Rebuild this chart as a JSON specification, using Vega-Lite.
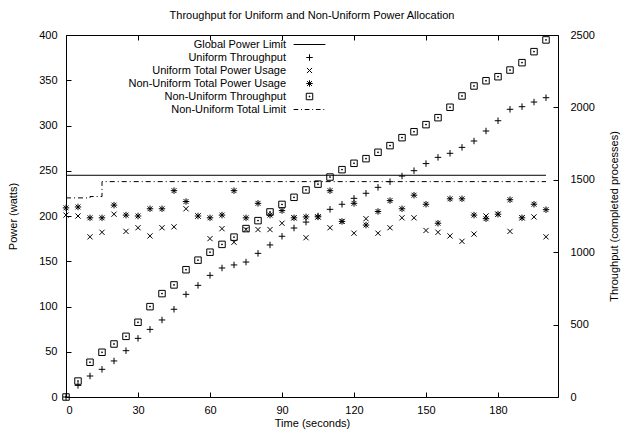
{
  "$schema": "https://vega.github.io/schema/vega-lite/v6.json",
  "autosize": "none",
  "width": 492,
  "height": 362,
  "padding": {"left": 66, "top": 35, "right": 63, "bottom": 36},
  "title": {"text": "Throughput for Uniform and Non-Uniform Power Allocation", "anchor": "middle", "offset": 8, "fontSize": 11, "fontWeight": "normal", "font": "Liberation Sans", "color": "black"},
  "config": {
    "view": {"stroke": "black", "strokeWidth": 1},
    "font": "Liberation Sans",
    "axis": {"labelFont": "Liberation Sans", "titleFont": "Liberation Sans", "labelFontSize": 11, "titleFontSize": 11, "titleFontWeight": "normal", "labelColor": "black", "titleColor": "black", "domainColor": "black", "tickColor": "black", "grid": false, "tickSize": -5, "domain": false},
    "legend": {"labelFont": "Liberation Sans", "labelFontSize": 11, "labelColor": "black"}
  },
  "data": {"values": [
    {"series": "Global Power Limit", "t": 0, "v": 245},
    {"series": "Global Power Limit", "t": 200, "v": 245},
    {"series": "Non-Uniform Total Limit", "t": 0, "v": 220},
    {"series": "Non-Uniform Total Limit", "t": 5, "v": 220},
    {"series": "Non-Uniform Total Limit", "t": 10, "v": 221.5},
    {"series": "Non-Uniform Total Limit", "t": 15, "v": 238},
    {"series": "Non-Uniform Total Limit", "t": 200, "v": 238},
    {"series": "Non-Uniform Throughput", "t": 0, "v": 0},
    {"series": "Non-Uniform Throughput", "t": 5, "v": 110},
    {"series": "Non-Uniform Throughput", "t": 10, "v": 240},
    {"series": "Non-Uniform Throughput", "t": 15, "v": 309},
    {"series": "Non-Uniform Throughput", "t": 20, "v": 366},
    {"series": "Non-Uniform Throughput", "t": 25, "v": 419},
    {"series": "Non-Uniform Throughput", "t": 30, "v": 516},
    {"series": "Non-Uniform Throughput", "t": 35, "v": 624},
    {"series": "Non-Uniform Throughput", "t": 40, "v": 714},
    {"series": "Non-Uniform Throughput", "t": 45, "v": 774},
    {"series": "Non-Uniform Throughput", "t": 50, "v": 879},
    {"series": "Non-Uniform Throughput", "t": 55, "v": 945},
    {"series": "Non-Uniform Throughput", "t": 60, "v": 1000},
    {"series": "Non-Uniform Throughput", "t": 65, "v": 1054},
    {"series": "Non-Uniform Throughput", "t": 70, "v": 1104},
    {"series": "Non-Uniform Throughput", "t": 75, "v": 1163},
    {"series": "Non-Uniform Throughput", "t": 80, "v": 1218},
    {"series": "Non-Uniform Throughput", "t": 85, "v": 1278},
    {"series": "Non-Uniform Throughput", "t": 90, "v": 1330},
    {"series": "Non-Uniform Throughput", "t": 95, "v": 1379},
    {"series": "Non-Uniform Throughput", "t": 100, "v": 1430},
    {"series": "Non-Uniform Throughput", "t": 105, "v": 1470},
    {"series": "Non-Uniform Throughput", "t": 110, "v": 1519},
    {"series": "Non-Uniform Throughput", "t": 115, "v": 1570},
    {"series": "Non-Uniform Throughput", "t": 120, "v": 1614},
    {"series": "Non-Uniform Throughput", "t": 125, "v": 1646},
    {"series": "Non-Uniform Throughput", "t": 130, "v": 1690},
    {"series": "Non-Uniform Throughput", "t": 135, "v": 1736},
    {"series": "Non-Uniform Throughput", "t": 140, "v": 1791},
    {"series": "Non-Uniform Throughput", "t": 145, "v": 1832},
    {"series": "Non-Uniform Throughput", "t": 150, "v": 1881},
    {"series": "Non-Uniform Throughput", "t": 155, "v": 1929},
    {"series": "Non-Uniform Throughput", "t": 160, "v": 2001},
    {"series": "Non-Uniform Throughput", "t": 165, "v": 2079},
    {"series": "Non-Uniform Throughput", "t": 170, "v": 2148},
    {"series": "Non-Uniform Throughput", "t": 175, "v": 2184},
    {"series": "Non-Uniform Throughput", "t": 180, "v": 2212},
    {"series": "Non-Uniform Throughput", "t": 185, "v": 2258},
    {"series": "Non-Uniform Throughput", "t": 190, "v": 2309},
    {"series": "Non-Uniform Throughput", "t": 195, "v": 2385},
    {"series": "Non-Uniform Throughput", "t": 200, "v": 2466},
    {"series": "Uniform Throughput", "t": 0, "v": 0},
    {"series": "Uniform Throughput", "t": 5, "v": 80},
    {"series": "Uniform Throughput", "t": 10, "v": 145},
    {"series": "Uniform Throughput", "t": 15, "v": 191},
    {"series": "Uniform Throughput", "t": 20, "v": 249},
    {"series": "Uniform Throughput", "t": 25, "v": 320},
    {"series": "Uniform Throughput", "t": 30, "v": 405},
    {"series": "Uniform Throughput", "t": 35, "v": 467},
    {"series": "Uniform Throughput", "t": 40, "v": 532},
    {"series": "Uniform Throughput", "t": 45, "v": 606},
    {"series": "Uniform Throughput", "t": 50, "v": 709},
    {"series": "Uniform Throughput", "t": 55, "v": 771},
    {"series": "Uniform Throughput", "t": 60, "v": 840},
    {"series": "Uniform Throughput", "t": 65, "v": 891},
    {"series": "Uniform Throughput", "t": 70, "v": 912},
    {"series": "Uniform Throughput", "t": 75, "v": 932},
    {"series": "Uniform Throughput", "t": 80, "v": 992},
    {"series": "Uniform Throughput", "t": 85, "v": 1050},
    {"series": "Uniform Throughput", "t": 90, "v": 1110},
    {"series": "Uniform Throughput", "t": 95, "v": 1167},
    {"series": "Uniform Throughput", "t": 100, "v": 1208},
    {"series": "Uniform Throughput", "t": 105, "v": 1250},
    {"series": "Uniform Throughput", "t": 110, "v": 1296},
    {"series": "Uniform Throughput", "t": 115, "v": 1331},
    {"series": "Uniform Throughput", "t": 120, "v": 1372},
    {"series": "Uniform Throughput", "t": 125, "v": 1407},
    {"series": "Uniform Throughput", "t": 130, "v": 1448},
    {"series": "Uniform Throughput", "t": 135, "v": 1487},
    {"series": "Uniform Throughput", "t": 140, "v": 1526},
    {"series": "Uniform Throughput", "t": 145, "v": 1563},
    {"series": "Uniform Throughput", "t": 150, "v": 1612},
    {"series": "Uniform Throughput", "t": 155, "v": 1655},
    {"series": "Uniform Throughput", "t": 160, "v": 1683},
    {"series": "Uniform Throughput", "t": 165, "v": 1724},
    {"series": "Uniform Throughput", "t": 170, "v": 1768},
    {"series": "Uniform Throughput", "t": 175, "v": 1837},
    {"series": "Uniform Throughput", "t": 180, "v": 1908},
    {"series": "Uniform Throughput", "t": 185, "v": 1987},
    {"series": "Uniform Throughput", "t": 190, "v": 2005},
    {"series": "Uniform Throughput", "t": 195, "v": 2037},
    {"series": "Uniform Throughput", "t": 200, "v": 2067},
    {"series": "Non-Uniform Total Power Usage", "t": 0, "v": 209},
    {"series": "Non-Uniform Total Power Usage", "t": 5, "v": 210},
    {"series": "Non-Uniform Total Power Usage", "t": 10, "v": 198},
    {"series": "Non-Uniform Total Power Usage", "t": 15, "v": 198},
    {"series": "Non-Uniform Total Power Usage", "t": 20, "v": 212},
    {"series": "Non-Uniform Total Power Usage", "t": 25, "v": 201},
    {"series": "Non-Uniform Total Power Usage", "t": 30, "v": 200},
    {"series": "Non-Uniform Total Power Usage", "t": 35, "v": 208},
    {"series": "Non-Uniform Total Power Usage", "t": 40, "v": 208},
    {"series": "Non-Uniform Total Power Usage", "t": 45, "v": 228},
    {"series": "Non-Uniform Total Power Usage", "t": 50, "v": 216},
    {"series": "Non-Uniform Total Power Usage", "t": 55, "v": 200},
    {"series": "Non-Uniform Total Power Usage", "t": 60, "v": 198},
    {"series": "Non-Uniform Total Power Usage", "t": 65, "v": 201},
    {"series": "Non-Uniform Total Power Usage", "t": 70, "v": 228},
    {"series": "Non-Uniform Total Power Usage", "t": 75, "v": 198},
    {"series": "Non-Uniform Total Power Usage", "t": 80, "v": 214},
    {"series": "Non-Uniform Total Power Usage", "t": 85, "v": 201},
    {"series": "Non-Uniform Total Power Usage", "t": 90, "v": 206},
    {"series": "Non-Uniform Total Power Usage", "t": 95, "v": 198},
    {"series": "Non-Uniform Total Power Usage", "t": 100, "v": 199},
    {"series": "Non-Uniform Total Power Usage", "t": 105, "v": 199},
    {"series": "Non-Uniform Total Power Usage", "t": 110, "v": 228},
    {"series": "Non-Uniform Total Power Usage", "t": 115, "v": 194},
    {"series": "Non-Uniform Total Power Usage", "t": 120, "v": 214},
    {"series": "Non-Uniform Total Power Usage", "t": 125, "v": 190},
    {"series": "Non-Uniform Total Power Usage", "t": 130, "v": 205},
    {"series": "Non-Uniform Total Power Usage", "t": 135, "v": 217},
    {"series": "Non-Uniform Total Power Usage", "t": 140, "v": 208},
    {"series": "Non-Uniform Total Power Usage", "t": 145, "v": 223},
    {"series": "Non-Uniform Total Power Usage", "t": 150, "v": 213},
    {"series": "Non-Uniform Total Power Usage", "t": 155, "v": 192},
    {"series": "Non-Uniform Total Power Usage", "t": 160, "v": 219},
    {"series": "Non-Uniform Total Power Usage", "t": 165, "v": 219},
    {"series": "Non-Uniform Total Power Usage", "t": 170, "v": 201},
    {"series": "Non-Uniform Total Power Usage", "t": 175, "v": 197},
    {"series": "Non-Uniform Total Power Usage", "t": 180, "v": 202},
    {"series": "Non-Uniform Total Power Usage", "t": 185, "v": 218},
    {"series": "Non-Uniform Total Power Usage", "t": 190, "v": 198},
    {"series": "Non-Uniform Total Power Usage", "t": 195, "v": 213},
    {"series": "Non-Uniform Total Power Usage", "t": 200, "v": 207},
    {"series": "Uniform Total Power Usage", "t": 0, "v": 201},
    {"series": "Uniform Total Power Usage", "t": 5, "v": 200},
    {"series": "Uniform Total Power Usage", "t": 10, "v": 177},
    {"series": "Uniform Total Power Usage", "t": 15, "v": 182},
    {"series": "Uniform Total Power Usage", "t": 20, "v": 202},
    {"series": "Uniform Total Power Usage", "t": 25, "v": 183},
    {"series": "Uniform Total Power Usage", "t": 30, "v": 187},
    {"series": "Uniform Total Power Usage", "t": 35, "v": 178},
    {"series": "Uniform Total Power Usage", "t": 40, "v": 187},
    {"series": "Uniform Total Power Usage", "t": 45, "v": 188},
    {"series": "Uniform Total Power Usage", "t": 50, "v": 208},
    {"series": "Uniform Total Power Usage", "t": 55, "v": 200},
    {"series": "Uniform Total Power Usage", "t": 60, "v": 175},
    {"series": "Uniform Total Power Usage", "t": 65, "v": 186},
    {"series": "Uniform Total Power Usage", "t": 70, "v": 171},
    {"series": "Uniform Total Power Usage", "t": 75, "v": 185},
    {"series": "Uniform Total Power Usage", "t": 80, "v": 185},
    {"series": "Uniform Total Power Usage", "t": 85, "v": 185},
    {"series": "Uniform Total Power Usage", "t": 90, "v": 192},
    {"series": "Uniform Total Power Usage", "t": 95, "v": 198},
    {"series": "Uniform Total Power Usage", "t": 100, "v": 176},
    {"series": "Uniform Total Power Usage", "t": 105, "v": 199},
    {"series": "Uniform Total Power Usage", "t": 110, "v": 187},
    {"series": "Uniform Total Power Usage", "t": 115, "v": 194},
    {"series": "Uniform Total Power Usage", "t": 120, "v": 181},
    {"series": "Uniform Total Power Usage", "t": 125, "v": 197},
    {"series": "Uniform Total Power Usage", "t": 130, "v": 181},
    {"series": "Uniform Total Power Usage", "t": 135, "v": 187},
    {"series": "Uniform Total Power Usage", "t": 140, "v": 198},
    {"series": "Uniform Total Power Usage", "t": 145, "v": 198},
    {"series": "Uniform Total Power Usage", "t": 150, "v": 184},
    {"series": "Uniform Total Power Usage", "t": 155, "v": 182},
    {"series": "Uniform Total Power Usage", "t": 160, "v": 178},
    {"series": "Uniform Total Power Usage", "t": 165, "v": 172},
    {"series": "Uniform Total Power Usage", "t": 170, "v": 180},
    {"series": "Uniform Total Power Usage", "t": 175, "v": 200},
    {"series": "Uniform Total Power Usage", "t": 180, "v": 202},
    {"series": "Uniform Total Power Usage", "t": 185, "v": 183},
    {"series": "Uniform Total Power Usage", "t": 190, "v": 198},
    {"series": "Uniform Total Power Usage", "t": 195, "v": 199},
    {"series": "Uniform Total Power Usage", "t": 200, "v": 177}
  ]},
  "layer": [
    {
      "layer": [
        {
          "transform": [{"filter": "datum.series === 'Global Power Limit'"}],
          "mark": {"type": "line", "color": "black", "strokeWidth": 1},
          "encoding": {
            "x": {"field": "t", "type": "quantitative", "scale": {"domain": [0, 205], "nice": false}, "axis": {"values": [0, 30, 60, 90, 120, 150, 180], "title": "Time (seconds)", "labelPadding": 12, "titlePadding": 2}},
            "y": {"field": "v", "type": "quantitative", "scale": {"domain": [0, 400], "nice": false}, "axis": {"values": [0, 50, 100, 150, 200, 250, 300, 350, 400], "title": "Power (watts)", "labelPadding": 14, "titlePadding": 20}}
          }
        },
        {
          "transform": [{"filter": "datum.series === 'Non-Uniform Total Limit'"}],
          "mark": {"type": "line", "color": "black", "strokeWidth": 1, "interpolate": "step-after", "strokeDash": [5, 3, 1, 3]},
          "encoding": {
            "x": {"field": "t", "type": "quantitative"},
            "y": {"field": "v", "type": "quantitative"}
          }
        },
        {
          "transform": [{"filter": {"field": "series", "oneOf": ["Uniform Total Power Usage", "Non-Uniform Total Power Usage"]}}],
          "mark": {"type": "point", "filled": false, "color": "black", "strokeWidth": 1, "size": 42, "opacity": 1},
          "encoding": {
            "x": {"field": "t", "type": "quantitative"},
            "y": {"field": "v", "type": "quantitative"},
            "shape": {"field": "series", "type": "nominal",
              "scale": {
                "domain": ["Global Power Limit", "Uniform Throughput", "Uniform Total Power Usage", "Non-Uniform Total Power Usage", "Non-Uniform Throughput", "Non-Uniform Total Limit"],
                "range": ["M-4.9,0H4.9", "M-1,0H1M0,-1V1", "M-0.8,-0.8L0.8,0.8M-0.8,0.8L0.8,-0.8", "M-1,0H1M0,-1V1M-0.75,-0.75L0.75,0.75M-0.75,0.75L0.75,-0.75", "M-1,-1H1V1H-1ZM-0.12,-0.12H0.12V0.12H-0.12Z", "M-4.9,0H-3.47M-2.61,0H-2.32M-1.46,0H-0.03M0.83,0H1.12M1.98,0H3.41M4.27,0H4.56"]
              },
              "legend": {"title": null, "orient": "none", "legendX": 238, "legendY": 4, "padding": 0, "labelAlign": "right", "labelOffset": -29, "labelLimit": 400, "symbolSize": 42, "symbolStrokeWidth": 1, "symbolStrokeColor": "black", "symbolFillColor": "transparent", "rowPadding": 1}
            }
          }
        }
      ]
    },
    {
      "transform": [{"filter": {"field": "series", "oneOf": ["Uniform Throughput", "Non-Uniform Throughput"]}}],
      "mark": {"type": "point", "filled": false, "color": "black", "strokeWidth": 1, "size": 42, "opacity": 1},
      "encoding": {
        "x": {"field": "t", "type": "quantitative", "axis": {"orient": "top", "values": [0, 30, 60, 90, 120, 150, 180], "labels": false, "title": null}},
        "y": {"field": "v", "type": "quantitative", "scale": {"domain": [0, 2500], "nice": false}, "axis": {"orient": "right", "values": [0, 500, 1000, 1500, 2000, 2500], "format": "d", "title": "Throughput (completed processes)", "titleAngle": 270, "labelPadding": 17, "titlePadding": 25}},
        "shape": {"field": "series", "type": "nominal"}
      }
    }
  ],
  "resolve": {"scale": {"y": "independent"}, "axis": {"x": "independent"}}
}
